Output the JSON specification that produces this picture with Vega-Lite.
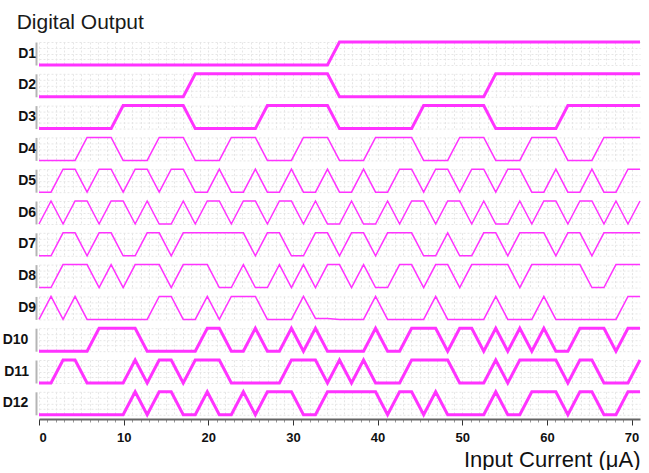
{
"$schema":"https://vega.github.io/schema/vega-lite/v6.json",
"background":"white",
"bounds":"flush",
"padding":{"left":2,"top":12,"right":0,"bottom":0},
"title":{"text":"Digital Output","anchor":"start","fontSize":21,"fontWeight":"normal","font":"Liberation Sans","color":"#1a1a1a","offset":10,"dx":14,"dy":7},
"data":{"values":[
{"s":"D1","x":0,"v":0},{"s":"D1","x":1.42,"v":0},{"s":"D1","x":2.84,"v":0},{"s":"D1","x":4.26,"v":0},{"s":"D1","x":5.68,"v":0},{"s":"D1","x":7.1,"v":0},{"s":"D1","x":8.52,"v":0},{"s":"D1","x":9.94,"v":0},{"s":"D1","x":11.36,"v":0},{"s":"D1","x":12.78,"v":0},{"s":"D1","x":14.2,"v":0},{"s":"D1","x":15.62,"v":0},{"s":"D1","x":17.04,"v":0},{"s":"D1","x":18.46,"v":0},{"s":"D1","x":19.88,"v":0},{"s":"D1","x":21.3,"v":0},{"s":"D1","x":22.72,"v":0},{"s":"D1","x":24.14,"v":0},{"s":"D1","x":25.56,"v":0},{"s":"D1","x":26.98,"v":0},{"s":"D1","x":28.4,"v":0},{"s":"D1","x":29.82,"v":0},{"s":"D1","x":31.24,"v":0},{"s":"D1","x":32.66,"v":0},{"s":"D1","x":34.08,"v":0},{"s":"D1","x":35.5,"v":1},{"s":"D1","x":36.92,"v":1},{"s":"D1","x":38.34,"v":1},{"s":"D1","x":39.76,"v":1},{"s":"D1","x":41.18,"v":1},{"s":"D1","x":42.6,"v":1},{"s":"D1","x":44.02,"v":1},{"s":"D1","x":45.44,"v":1},{"s":"D1","x":46.86,"v":1},{"s":"D1","x":48.28,"v":1},{"s":"D1","x":49.7,"v":1},{"s":"D1","x":51.12,"v":1},{"s":"D1","x":52.54,"v":1},{"s":"D1","x":53.96,"v":1},{"s":"D1","x":55.38,"v":1},{"s":"D1","x":56.8,"v":1},{"s":"D1","x":58.22,"v":1},{"s":"D1","x":59.64,"v":1},{"s":"D1","x":61.06,"v":1},{"s":"D1","x":62.48,"v":1},{"s":"D1","x":63.9,"v":1},{"s":"D1","x":65.32,"v":1},{"s":"D1","x":66.74,"v":1},{"s":"D1","x":68.16,"v":1},{"s":"D1","x":69.58,"v":1},{"s":"D1","x":71,"v":1},
{"s":"D2","x":0,"v":0},{"s":"D2","x":1.42,"v":0},{"s":"D2","x":2.84,"v":0},{"s":"D2","x":4.26,"v":0},{"s":"D2","x":5.68,"v":0},{"s":"D2","x":7.1,"v":0},{"s":"D2","x":8.52,"v":0},{"s":"D2","x":9.94,"v":0},{"s":"D2","x":11.36,"v":0},{"s":"D2","x":12.78,"v":0},{"s":"D2","x":14.2,"v":0},{"s":"D2","x":15.62,"v":0},{"s":"D2","x":17.04,"v":0},{"s":"D2","x":18.46,"v":1},{"s":"D2","x":19.88,"v":1},{"s":"D2","x":21.3,"v":1},{"s":"D2","x":22.72,"v":1},{"s":"D2","x":24.14,"v":1},{"s":"D2","x":25.56,"v":1},{"s":"D2","x":26.98,"v":1},{"s":"D2","x":28.4,"v":1},{"s":"D2","x":29.82,"v":1},{"s":"D2","x":31.24,"v":1},{"s":"D2","x":32.66,"v":1},{"s":"D2","x":34.08,"v":1},{"s":"D2","x":35.5,"v":0},{"s":"D2","x":36.92,"v":0},{"s":"D2","x":38.34,"v":0},{"s":"D2","x":39.76,"v":0},{"s":"D2","x":41.18,"v":0},{"s":"D2","x":42.6,"v":0},{"s":"D2","x":44.02,"v":0},{"s":"D2","x":45.44,"v":0},{"s":"D2","x":46.86,"v":0},{"s":"D2","x":48.28,"v":0},{"s":"D2","x":49.7,"v":0},{"s":"D2","x":51.12,"v":0},{"s":"D2","x":52.54,"v":0},{"s":"D2","x":53.96,"v":1},{"s":"D2","x":55.38,"v":1},{"s":"D2","x":56.8,"v":1},{"s":"D2","x":58.22,"v":1},{"s":"D2","x":59.64,"v":1},{"s":"D2","x":61.06,"v":1},{"s":"D2","x":62.48,"v":1},{"s":"D2","x":63.9,"v":1},{"s":"D2","x":65.32,"v":1},{"s":"D2","x":66.74,"v":1},{"s":"D2","x":68.16,"v":1},{"s":"D2","x":69.58,"v":1},{"s":"D2","x":71,"v":1},
{"s":"D3","x":0,"v":0},{"s":"D3","x":1.42,"v":0},{"s":"D3","x":2.84,"v":0},{"s":"D3","x":4.26,"v":0},{"s":"D3","x":5.68,"v":0},{"s":"D3","x":7.1,"v":0},{"s":"D3","x":8.52,"v":0},{"s":"D3","x":9.94,"v":1},{"s":"D3","x":11.36,"v":1},{"s":"D3","x":12.78,"v":1},{"s":"D3","x":14.2,"v":1},{"s":"D3","x":15.62,"v":1},{"s":"D3","x":17.04,"v":1},{"s":"D3","x":18.46,"v":0},{"s":"D3","x":19.88,"v":0},{"s":"D3","x":21.3,"v":0},{"s":"D3","x":22.72,"v":0},{"s":"D3","x":24.14,"v":0},{"s":"D3","x":25.56,"v":0},{"s":"D3","x":26.98,"v":1},{"s":"D3","x":28.4,"v":1},{"s":"D3","x":29.82,"v":1},{"s":"D3","x":31.24,"v":1},{"s":"D3","x":32.66,"v":1},{"s":"D3","x":34.08,"v":1},{"s":"D3","x":35.5,"v":0},{"s":"D3","x":36.92,"v":0},{"s":"D3","x":38.34,"v":0},{"s":"D3","x":39.76,"v":0},{"s":"D3","x":41.18,"v":0},{"s":"D3","x":42.6,"v":0},{"s":"D3","x":44.02,"v":0},{"s":"D3","x":45.44,"v":1},{"s":"D3","x":46.86,"v":1},{"s":"D3","x":48.28,"v":1},{"s":"D3","x":49.7,"v":1},{"s":"D3","x":51.12,"v":1},{"s":"D3","x":52.54,"v":1},{"s":"D3","x":53.96,"v":0},{"s":"D3","x":55.38,"v":0},{"s":"D3","x":56.8,"v":0},{"s":"D3","x":58.22,"v":0},{"s":"D3","x":59.64,"v":0},{"s":"D3","x":61.06,"v":0},{"s":"D3","x":62.48,"v":1},{"s":"D3","x":63.9,"v":1},{"s":"D3","x":65.32,"v":1},{"s":"D3","x":66.74,"v":1},{"s":"D3","x":68.16,"v":1},{"s":"D3","x":69.58,"v":1},{"s":"D3","x":71,"v":1},
{"s":"D4","x":0,"v":0},{"s":"D4","x":1.42,"v":0},{"s":"D4","x":2.84,"v":0},{"s":"D4","x":4.26,"v":0},{"s":"D4","x":5.68,"v":1},{"s":"D4","x":7.1,"v":1},{"s":"D4","x":8.52,"v":1},{"s":"D4","x":9.94,"v":0},{"s":"D4","x":11.36,"v":0},{"s":"D4","x":12.78,"v":0},{"s":"D4","x":14.2,"v":1},{"s":"D4","x":15.62,"v":1},{"s":"D4","x":17.04,"v":1},{"s":"D4","x":18.46,"v":0},{"s":"D4","x":19.88,"v":0},{"s":"D4","x":21.3,"v":0},{"s":"D4","x":22.72,"v":1},{"s":"D4","x":24.14,"v":1},{"s":"D4","x":25.56,"v":1},{"s":"D4","x":26.98,"v":0},{"s":"D4","x":28.4,"v":0},{"s":"D4","x":29.82,"v":0},{"s":"D4","x":31.24,"v":1},{"s":"D4","x":32.66,"v":1},{"s":"D4","x":34.08,"v":1},{"s":"D4","x":35.5,"v":0},{"s":"D4","x":36.92,"v":0},{"s":"D4","x":38.34,"v":0},{"s":"D4","x":39.76,"v":1},{"s":"D4","x":41.18,"v":1},{"s":"D4","x":42.6,"v":1},{"s":"D4","x":44.02,"v":1},{"s":"D4","x":45.44,"v":0},{"s":"D4","x":46.86,"v":0},{"s":"D4","x":48.28,"v":0},{"s":"D4","x":49.7,"v":1},{"s":"D4","x":51.12,"v":1},{"s":"D4","x":52.54,"v":1},{"s":"D4","x":53.96,"v":0},{"s":"D4","x":55.38,"v":0},{"s":"D4","x":56.8,"v":0},{"s":"D4","x":58.22,"v":1},{"s":"D4","x":59.64,"v":1},{"s":"D4","x":61.06,"v":1},{"s":"D4","x":62.48,"v":0},{"s":"D4","x":63.9,"v":0},{"s":"D4","x":65.32,"v":0},{"s":"D4","x":66.74,"v":1},{"s":"D4","x":68.16,"v":1},{"s":"D4","x":69.58,"v":1},{"s":"D4","x":71,"v":1},
{"s":"D5","x":0,"v":0},{"s":"D5","x":1.42,"v":0},{"s":"D5","x":2.84,"v":1},{"s":"D5","x":4.26,"v":1},{"s":"D5","x":5.68,"v":0},{"s":"D5","x":7.1,"v":1},{"s":"D5","x":8.52,"v":1},{"s":"D5","x":9.94,"v":0},{"s":"D5","x":11.36,"v":1},{"s":"D5","x":12.78,"v":1},{"s":"D5","x":14.2,"v":0},{"s":"D5","x":15.62,"v":1},{"s":"D5","x":17.04,"v":1},{"s":"D5","x":18.46,"v":0},{"s":"D5","x":19.88,"v":0},{"s":"D5","x":21.3,"v":1},{"s":"D5","x":22.72,"v":0},{"s":"D5","x":24.14,"v":0},{"s":"D5","x":25.56,"v":1},{"s":"D5","x":26.98,"v":0},{"s":"D5","x":28.4,"v":0},{"s":"D5","x":29.82,"v":1},{"s":"D5","x":31.24,"v":0},{"s":"D5","x":32.66,"v":0},{"s":"D5","x":34.08,"v":1},{"s":"D5","x":35.5,"v":0},{"s":"D5","x":36.92,"v":0},{"s":"D5","x":38.34,"v":1},{"s":"D5","x":39.76,"v":0},{"s":"D5","x":41.18,"v":0},{"s":"D5","x":42.6,"v":1},{"s":"D5","x":44.02,"v":1},{"s":"D5","x":45.44,"v":0},{"s":"D5","x":46.86,"v":1},{"s":"D5","x":48.28,"v":1},{"s":"D5","x":49.7,"v":0},{"s":"D5","x":51.12,"v":1},{"s":"D5","x":52.54,"v":1},{"s":"D5","x":53.96,"v":0},{"s":"D5","x":55.38,"v":1},{"s":"D5","x":56.8,"v":1},{"s":"D5","x":58.22,"v":0},{"s":"D5","x":59.64,"v":0},{"s":"D5","x":61.06,"v":1},{"s":"D5","x":62.48,"v":0},{"s":"D5","x":63.9,"v":0},{"s":"D5","x":65.32,"v":1},{"s":"D5","x":66.74,"v":0},{"s":"D5","x":68.16,"v":0},{"s":"D5","x":69.58,"v":1},{"s":"D5","x":71,"v":1},
{"s":"D6","x":0,"v":0},{"s":"D6","x":1.42,"v":1},{"s":"D6","x":2.84,"v":0},{"s":"D6","x":4.26,"v":1},{"s":"D6","x":5.68,"v":1},{"s":"D6","x":7.1,"v":0},{"s":"D6","x":8.52,"v":1},{"s":"D6","x":9.94,"v":1},{"s":"D6","x":11.36,"v":0},{"s":"D6","x":12.78,"v":1},{"s":"D6","x":14.2,"v":0},{"s":"D6","x":15.62,"v":0},{"s":"D6","x":17.04,"v":1},{"s":"D6","x":18.46,"v":0},{"s":"D6","x":19.88,"v":1},{"s":"D6","x":21.3,"v":1},{"s":"D6","x":22.72,"v":0},{"s":"D6","x":24.14,"v":1},{"s":"D6","x":25.56,"v":1},{"s":"D6","x":26.98,"v":0},{"s":"D6","x":28.4,"v":1},{"s":"D6","x":29.82,"v":1},{"s":"D6","x":31.24,"v":0},{"s":"D6","x":32.66,"v":1},{"s":"D6","x":34.08,"v":0},{"s":"D6","x":35.5,"v":0},{"s":"D6","x":36.92,"v":1},{"s":"D6","x":38.34,"v":0},{"s":"D6","x":39.76,"v":0},{"s":"D6","x":41.18,"v":1},{"s":"D6","x":42.6,"v":0},{"s":"D6","x":44.02,"v":1},{"s":"D6","x":45.44,"v":1},{"s":"D6","x":46.86,"v":0},{"s":"D6","x":48.28,"v":1},{"s":"D6","x":49.7,"v":1},{"s":"D6","x":51.12,"v":0},{"s":"D6","x":52.54,"v":1},{"s":"D6","x":53.96,"v":0},{"s":"D6","x":55.38,"v":0},{"s":"D6","x":56.8,"v":1},{"s":"D6","x":58.22,"v":0},{"s":"D6","x":59.64,"v":1},{"s":"D6","x":61.06,"v":1},{"s":"D6","x":62.48,"v":0},{"s":"D6","x":63.9,"v":1},{"s":"D6","x":65.32,"v":1},{"s":"D6","x":66.74,"v":0},{"s":"D6","x":68.16,"v":1},{"s":"D6","x":69.58,"v":0},{"s":"D6","x":71,"v":1},
{"s":"D7","x":0,"v":0},{"s":"D7","x":1.42,"v":0},{"s":"D7","x":2.84,"v":1},{"s":"D7","x":4.26,"v":1},{"s":"D7","x":5.68,"v":0},{"s":"D7","x":7.1,"v":1},{"s":"D7","x":8.52,"v":1},{"s":"D7","x":9.94,"v":0},{"s":"D7","x":11.36,"v":0},{"s":"D7","x":12.78,"v":1},{"s":"D7","x":14.2,"v":1},{"s":"D7","x":15.62,"v":0},{"s":"D7","x":17.04,"v":1},{"s":"D7","x":18.46,"v":1},{"s":"D7","x":19.88,"v":1},{"s":"D7","x":21.3,"v":1},{"s":"D7","x":22.72,"v":1},{"s":"D7","x":24.14,"v":1},{"s":"D7","x":25.56,"v":0},{"s":"D7","x":26.98,"v":1},{"s":"D7","x":28.4,"v":1},{"s":"D7","x":29.82,"v":0},{"s":"D7","x":31.24,"v":0},{"s":"D7","x":32.66,"v":1},{"s":"D7","x":34.08,"v":1},{"s":"D7","x":35.5,"v":0},{"s":"D7","x":36.92,"v":1},{"s":"D7","x":38.34,"v":1},{"s":"D7","x":39.76,"v":0},{"s":"D7","x":41.18,"v":1},{"s":"D7","x":42.6,"v":1},{"s":"D7","x":44.02,"v":1},{"s":"D7","x":45.44,"v":0},{"s":"D7","x":46.86,"v":0},{"s":"D7","x":48.28,"v":1},{"s":"D7","x":49.7,"v":0},{"s":"D7","x":51.12,"v":0},{"s":"D7","x":52.54,"v":1},{"s":"D7","x":53.96,"v":1},{"s":"D7","x":55.38,"v":0},{"s":"D7","x":56.8,"v":1},{"s":"D7","x":58.22,"v":1},{"s":"D7","x":59.64,"v":1},{"s":"D7","x":61.06,"v":0},{"s":"D7","x":62.48,"v":1},{"s":"D7","x":63.9,"v":1},{"s":"D7","x":65.32,"v":0},{"s":"D7","x":66.74,"v":1},{"s":"D7","x":68.16,"v":1},{"s":"D7","x":69.58,"v":1},{"s":"D7","x":71,"v":1},
{"s":"D8","x":0,"v":0},{"s":"D8","x":1.42,"v":0},{"s":"D8","x":2.84,"v":1},{"s":"D8","x":4.26,"v":1},{"s":"D8","x":5.68,"v":1},{"s":"D8","x":7.1,"v":0},{"s":"D8","x":8.52,"v":1},{"s":"D8","x":9.94,"v":0},{"s":"D8","x":11.36,"v":1},{"s":"D8","x":12.78,"v":1},{"s":"D8","x":14.2,"v":1},{"s":"D8","x":15.62,"v":0},{"s":"D8","x":17.04,"v":1},{"s":"D8","x":18.46,"v":1},{"s":"D8","x":19.88,"v":1},{"s":"D8","x":21.3,"v":0},{"s":"D8","x":22.72,"v":0},{"s":"D8","x":24.14,"v":1},{"s":"D8","x":25.56,"v":0},{"s":"D8","x":26.98,"v":0},{"s":"D8","x":28.4,"v":1},{"s":"D8","x":29.82,"v":0},{"s":"D8","x":31.24,"v":1},{"s":"D8","x":32.66,"v":0},{"s":"D8","x":34.08,"v":1},{"s":"D8","x":35.5,"v":1},{"s":"D8","x":36.92,"v":0},{"s":"D8","x":38.34,"v":1},{"s":"D8","x":39.76,"v":0},{"s":"D8","x":41.18,"v":0},{"s":"D8","x":42.6,"v":1},{"s":"D8","x":44.02,"v":1},{"s":"D8","x":45.44,"v":0},{"s":"D8","x":46.86,"v":1},{"s":"D8","x":48.28,"v":1},{"s":"D8","x":49.7,"v":0},{"s":"D8","x":51.12,"v":1},{"s":"D8","x":52.54,"v":1},{"s":"D8","x":53.96,"v":1},{"s":"D8","x":55.38,"v":1},{"s":"D8","x":56.8,"v":0},{"s":"D8","x":58.22,"v":1},{"s":"D8","x":59.64,"v":1},{"s":"D8","x":61.06,"v":1},{"s":"D8","x":62.48,"v":1},{"s":"D8","x":63.9,"v":1},{"s":"D8","x":65.32,"v":0},{"s":"D8","x":66.74,"v":0},{"s":"D8","x":68.16,"v":1},{"s":"D8","x":69.58,"v":1},{"s":"D8","x":71,"v":1},
{"s":"D9","x":0,"v":0},{"s":"D9","x":1.42,"v":1},{"s":"D9","x":2.84,"v":0},{"s":"D9","x":4.26,"v":1},{"s":"D9","x":5.68,"v":0},{"s":"D9","x":7.1,"v":0},{"s":"D9","x":8.52,"v":0},{"s":"D9","x":9.94,"v":0},{"s":"D9","x":11.36,"v":0},{"s":"D9","x":12.78,"v":0},{"s":"D9","x":14.2,"v":1},{"s":"D9","x":15.62,"v":1},{"s":"D9","x":17.04,"v":0},{"s":"D9","x":18.46,"v":0},{"s":"D9","x":19.88,"v":1},{"s":"D9","x":21.3,"v":0},{"s":"D9","x":22.72,"v":1},{"s":"D9","x":24.14,"v":1},{"s":"D9","x":25.56,"v":1},{"s":"D9","x":26.98,"v":0},{"s":"D9","x":28.4,"v":0},{"s":"D9","x":29.82,"v":0},{"s":"D9","x":31.24,"v":1},{"s":"D9","x":32.66,"v":0.04},{"s":"D9","x":34.08,"v":0.04},{"s":"D9","x":35.5,"v":0},{"s":"D9","x":36.92,"v":0},{"s":"D9","x":38.34,"v":0},{"s":"D9","x":39.76,"v":1},{"s":"D9","x":41.18,"v":0},{"s":"D9","x":42.6,"v":0},{"s":"D9","x":44.02,"v":0},{"s":"D9","x":45.44,"v":0},{"s":"D9","x":46.86,"v":1},{"s":"D9","x":48.28,"v":0},{"s":"D9","x":49.7,"v":0},{"s":"D9","x":51.12,"v":0},{"s":"D9","x":52.54,"v":0},{"s":"D9","x":53.96,"v":1},{"s":"D9","x":55.38,"v":0},{"s":"D9","x":56.8,"v":0},{"s":"D9","x":58.22,"v":0},{"s":"D9","x":59.64,"v":1},{"s":"D9","x":61.06,"v":0},{"s":"D9","x":62.48,"v":0},{"s":"D9","x":63.9,"v":0},{"s":"D9","x":65.32,"v":0},{"s":"D9","x":66.74,"v":0},{"s":"D9","x":68.16,"v":0},{"s":"D9","x":69.58,"v":1},{"s":"D9","x":71,"v":1},
{"s":"D10","x":0,"v":0},{"s":"D10","x":1.42,"v":0},{"s":"D10","x":2.84,"v":0},{"s":"D10","x":4.26,"v":0},{"s":"D10","x":5.68,"v":0},{"s":"D10","x":7.1,"v":1},{"s":"D10","x":8.52,"v":1},{"s":"D10","x":9.94,"v":1},{"s":"D10","x":11.36,"v":1},{"s":"D10","x":12.78,"v":0},{"s":"D10","x":14.2,"v":0},{"s":"D10","x":15.62,"v":0},{"s":"D10","x":17.04,"v":0},{"s":"D10","x":18.46,"v":0},{"s":"D10","x":19.88,"v":1},{"s":"D10","x":21.3,"v":1},{"s":"D10","x":22.72,"v":0},{"s":"D10","x":24.14,"v":0},{"s":"D10","x":25.56,"v":1},{"s":"D10","x":26.98,"v":0},{"s":"D10","x":28.4,"v":0},{"s":"D10","x":29.82,"v":1},{"s":"D10","x":31.24,"v":0},{"s":"D10","x":32.66,"v":1},{"s":"D10","x":34.08,"v":0},{"s":"D10","x":35.5,"v":0},{"s":"D10","x":36.92,"v":0},{"s":"D10","x":38.34,"v":0},{"s":"D10","x":39.76,"v":1},{"s":"D10","x":41.18,"v":0},{"s":"D10","x":42.6,"v":0},{"s":"D10","x":44.02,"v":1},{"s":"D10","x":45.44,"v":1},{"s":"D10","x":46.86,"v":1},{"s":"D10","x":48.28,"v":0},{"s":"D10","x":49.7,"v":1},{"s":"D10","x":51.12,"v":1},{"s":"D10","x":52.54,"v":0},{"s":"D10","x":53.96,"v":1},{"s":"D10","x":55.38,"v":0},{"s":"D10","x":56.8,"v":1},{"s":"D10","x":58.22,"v":0},{"s":"D10","x":59.64,"v":1},{"s":"D10","x":61.06,"v":0},{"s":"D10","x":62.48,"v":0},{"s":"D10","x":63.9,"v":1},{"s":"D10","x":65.32,"v":1},{"s":"D10","x":66.74,"v":1},{"s":"D10","x":68.16,"v":0},{"s":"D10","x":69.58,"v":1},{"s":"D10","x":71,"v":1},
{"s":"D11","x":0,"v":0},{"s":"D11","x":1.42,"v":0},{"s":"D11","x":2.84,"v":1},{"s":"D11","x":4.26,"v":1},{"s":"D11","x":5.68,"v":0},{"s":"D11","x":7.1,"v":0},{"s":"D11","x":8.52,"v":0},{"s":"D11","x":9.94,"v":0},{"s":"D11","x":11.36,"v":1},{"s":"D11","x":12.78,"v":0},{"s":"D11","x":14.2,"v":1},{"s":"D11","x":15.62,"v":1},{"s":"D11","x":17.04,"v":0},{"s":"D11","x":18.46,"v":1},{"s":"D11","x":19.88,"v":1},{"s":"D11","x":21.3,"v":1},{"s":"D11","x":22.72,"v":0},{"s":"D11","x":24.14,"v":0},{"s":"D11","x":25.56,"v":0},{"s":"D11","x":26.98,"v":0},{"s":"D11","x":28.4,"v":0},{"s":"D11","x":29.82,"v":1},{"s":"D11","x":31.24,"v":1},{"s":"D11","x":32.66,"v":1},{"s":"D11","x":34.08,"v":0},{"s":"D11","x":35.5,"v":1},{"s":"D11","x":36.92,"v":0},{"s":"D11","x":38.34,"v":1},{"s":"D11","x":39.76,"v":0},{"s":"D11","x":41.18,"v":0},{"s":"D11","x":42.6,"v":0},{"s":"D11","x":44.02,"v":1},{"s":"D11","x":45.44,"v":1},{"s":"D11","x":46.86,"v":1},{"s":"D11","x":48.28,"v":1},{"s":"D11","x":49.7,"v":0},{"s":"D11","x":51.12,"v":0},{"s":"D11","x":52.54,"v":0},{"s":"D11","x":53.96,"v":1},{"s":"D11","x":55.38,"v":0},{"s":"D11","x":56.8,"v":1},{"s":"D11","x":58.22,"v":1},{"s":"D11","x":59.64,"v":1},{"s":"D11","x":61.06,"v":1},{"s":"D11","x":62.48,"v":0},{"s":"D11","x":63.9,"v":1},{"s":"D11","x":65.32,"v":1},{"s":"D11","x":66.74,"v":0},{"s":"D11","x":68.16,"v":0},{"s":"D11","x":69.58,"v":0},{"s":"D11","x":71,"v":1},
{"s":"D12","x":0,"v":0},{"s":"D12","x":1.42,"v":0},{"s":"D12","x":2.84,"v":0},{"s":"D12","x":4.26,"v":0},{"s":"D12","x":5.68,"v":0},{"s":"D12","x":7.1,"v":0},{"s":"D12","x":8.52,"v":0},{"s":"D12","x":9.94,"v":0},{"s":"D12","x":11.36,"v":1},{"s":"D12","x":12.78,"v":0},{"s":"D12","x":14.2,"v":1},{"s":"D12","x":15.62,"v":1},{"s":"D12","x":17.04,"v":0},{"s":"D12","x":18.46,"v":0},{"s":"D12","x":19.88,"v":1},{"s":"D12","x":21.3,"v":0},{"s":"D12","x":22.72,"v":0},{"s":"D12","x":24.14,"v":1},{"s":"D12","x":25.56,"v":0},{"s":"D12","x":26.98,"v":1},{"s":"D12","x":28.4,"v":1},{"s":"D12","x":29.82,"v":1},{"s":"D12","x":31.24,"v":0},{"s":"D12","x":32.66,"v":0},{"s":"D12","x":34.08,"v":1},{"s":"D12","x":35.5,"v":1},{"s":"D12","x":36.92,"v":1},{"s":"D12","x":38.34,"v":1},{"s":"D12","x":39.76,"v":1},{"s":"D12","x":41.18,"v":0},{"s":"D12","x":42.6,"v":1},{"s":"D12","x":44.02,"v":1},{"s":"D12","x":45.44,"v":0},{"s":"D12","x":46.86,"v":1},{"s":"D12","x":48.28,"v":0},{"s":"D12","x":49.7,"v":0},{"s":"D12","x":51.12,"v":0},{"s":"D12","x":52.54,"v":0},{"s":"D12","x":53.96,"v":1},{"s":"D12","x":55.38,"v":0},{"s":"D12","x":56.8,"v":0},{"s":"D12","x":58.22,"v":1},{"s":"D12","x":59.64,"v":1},{"s":"D12","x":61.06,"v":1},{"s":"D12","x":62.48,"v":0},{"s":"D12","x":63.9,"v":1},{"s":"D12","x":65.32,"v":1},{"s":"D12","x":66.74,"v":0},{"s":"D12","x":68.16,"v":0},{"s":"D12","x":69.58,"v":1},{"s":"D12","x":71,"v":1}
]},
"facet":{"row":{"field":"s","type":"nominal","sort":["D1","D2","D3","D4","D5","D6","D7","D8","D9","D10","D11","D12"],
  "header":{"title":null,"labelAngle":0,"labelOrient":"left","labelFontWeight":"bold","labelFontSize":14,"labelFont":"Liberation Sans","labelColor":"#111","labelAlign":"right","labelPadding":-18}}},
"spacing":{"row":8.8},
"spec":{
  "width":601,"height":23,
  "mark":{"type":"line","color":"#ff33ff"},
  "encoding":{
    "x":{"field":"x","type":"quantitative","scale":{"domain":[0,71],"nice":false,"zero":false},
      "axis":{"values":[0,1,2,3,4,5,6,7,8,9,10,11,12,13,14,15,16,17,18,19,20,21,22,23,24,25,26,27,28,29,30,31,32,33,34,35,36,37,38,39,40,41,42,43,44,45,46,47,48,49,50,51,52,53,54,55,56,57,58,59,60,61,62,63,64,65,66,67,68,69,70],
        "grid":true,"gridColor":"#e6e6e6","gridDash":[2,2],"gridWidth":1,
        "labelExpr":"datum.value % 10 === 0 ? datum.label : ''","labelOverlap":false,
        "labelFontWeight":"bold","labelFontSize":13,"labelFont":"Liberation Sans","labelColor":"#111","labelPadding":6,
        "tickSize":{"condition":{"test":"datum.value % 10 === 0","value":6},"value":3},
        "tickColor":{"condition":{"test":"datum.value % 10 === 0","value":"#333"},"value":"#999"},
        "domainColor":"#666","domainWidth":2,"offset":4,
        "title":"Input Current (μA)","titleFontSize":22,"titleFontWeight":"normal","titleFont":"Liberation Sans","titleColor":"#111",
        "titleAnchor":"end","titleAlign":"right","titleY":47,"titleBaseline":"alphabetic"}},
    "y":{"field":"v","type":"quantitative","scale":{"domain":[0,1],"nice":false,"zero":false},
      "axis":{"values":[0,0.25,0.5,0.75,1],"labels":false,"ticks":false,"title":null,"minExtent":0,"grid":true,"gridColor":"#e6e6e6","gridDash":[2,2],"domainColor":"#b5b5b5","domainWidth":2,"offset":3}},
    "strokeWidth":{"condition":{"test":"indexof(['D4','D5','D6','D7','D8','D9'], datum.s) >= 0","value":1.5},"value":3}
  }
},
"config":{"view":{"stroke":null}}
}
